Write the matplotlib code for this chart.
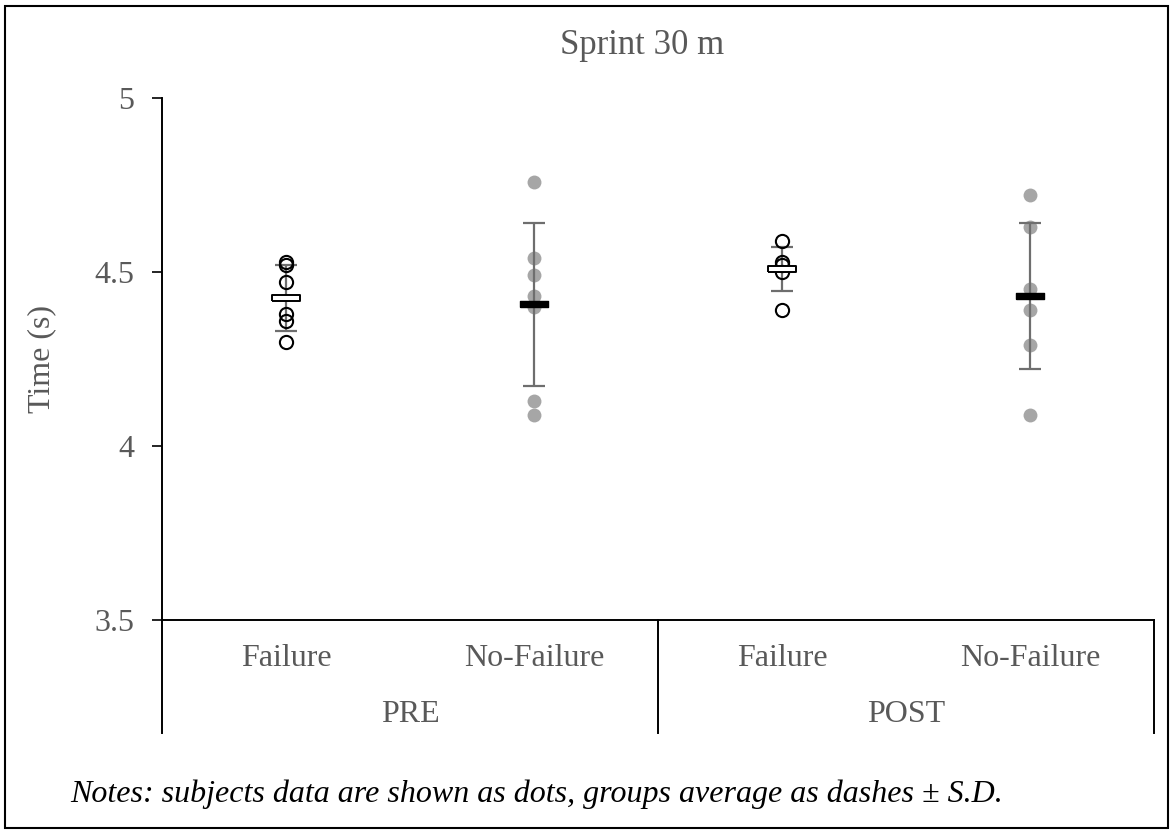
import numpy as np
import matplotlib
matplotlib.use('Agg')
import matplotlib.pyplot as plt
import matplotlib.transforms as mtransforms
from matplotlib.patches import Rectangle

plt.rcParams['font.family'] = ['Liberation Serif', 'DejaVu Serif']

# data
groups = ['PRE', 'POST']
conditions = ['Failure', 'No-Failure', 'Failure', 'No-Failure']
pre_failure = [4.53, 4.52, 4.47, 4.38, 4.36, 4.30]
pre_nofailure = [4.76, 4.54, 4.49, 4.43, 4.40, 4.13, 4.09]
post_failure = [4.59, 4.53, 4.52, 4.50, 4.39]
post_nofailure = [4.72, 4.63, 4.45, 4.39, 4.29, 4.09]
means = [4.425, 4.407, 4.508, 4.430]
sds = [0.095, 0.235, 0.063, 0.210]

subjects = [pre_failure, pre_nofailure, post_failure, post_nofailure]
is_failure = [True, False, True, False]

W, H = 1173, 834
fig = plt.figure(figsize=(W / 100, H / 100), dpi=100)
ax = fig.add_axes([162 / W, 1 - 620 / H, (1154 - 162) / W, (620 - 98) / H])

txt = '#595959'
fs = 23
dash = [(-1, -0.25), (1, -0.25), (1, 0.25), (-1, 0.25), (-1, -0.25)]

for i, vals in enumerate(subjects):
    x = np.full(len(vals), i)
    if is_failure[i]:
        ax.plot(x, vals, 'o', ms=9.5, mfc='none', mec='black', mew=1.5, zorder=4)
    else:
        ax.plot(x, vals, 'o', ms=10, mfc='#a6a6a6', mec='none', zorder=2)
    ax.errorbar(i, means[i], yerr=sds[i], fmt='none', ecolor='#6e6e6e',
                elinewidth=1.6, capsize=8, capthick=1.6, zorder=3)
    if is_failure[i]:
        ax.plot(i, means[i], marker=dash, ms=20, mfc='white', mec='black', mew=1.4, zorder=5)
    else:
        ax.plot(i, means[i], marker=dash, ms=20, mfc='black', mec='black', mew=1.0, zorder=5)

ax.set_xlim(-0.5, 3.5)
ax.set_ylim(3.5, 5)
ax.set_yticks([3.5, 4, 4.5, 5])
ax.set_yticklabels(['3.5', '4', '4.5', '5'])
ax.tick_params(axis='y', length=7, width=1.2, color='black', labelcolor=txt,
               labelsize=fs, pad=13)
ax.set_xticks([])
for s in ['top', 'right']:
    ax.spines[s].set_visible(False)
for s in ['left', 'bottom']:
    ax.spines[s].set_color('black')
    ax.spines[s].set_linewidth(1.4)

# category box lines below the axis
trans = mtransforms.blended_transform_factory(ax.transData, ax.transAxes)
low = -(733 - 620) / (620 - 98)
for xs in [-0.5, 1.5, 3.5]:
    ax.plot([xs, xs], [0, low], color='black', lw=1.4, transform=trans, clip_on=False)

row1 = -(658 - 620) / (620 - 98)
row2 = -(715 - 620) / (620 - 98)
for i, c in enumerate(conditions):
    ax.text(i, row1, c, transform=trans, ha='center', va='center', fontsize=fs, color=txt)
for j, g in enumerate(groups):
    ax.text(2 * j + 0.5, row2, g, transform=trans, ha='center', va='center', fontsize=fs, color=txt)

fig.text(642 / W, 1 - 45 / H, 'Sprint 30 m', ha='center', va='center', fontsize=25, color=txt)
fig.text(42 / W, 1 - 359 / H, 'Time (s)', ha='center', va='center', rotation=90,
         fontsize=fs, color=txt)
fig.text(70 / W, 1 - 794 / H, 'Notes: subjects data are shown as dots, groups average as dashes \u00b1 S.D.',
         ha='left', va='center', fontsize=fs, style='italic', color='black')

fig.add_artist(Rectangle((5 / W, 6 / H), (1168 - 5) / W, (828 - 6) / H, fill=False,
                         lw=1.5, edgecolor='black', transform=fig.transFigure))

fig.savefig('out.png', dpi=100)
